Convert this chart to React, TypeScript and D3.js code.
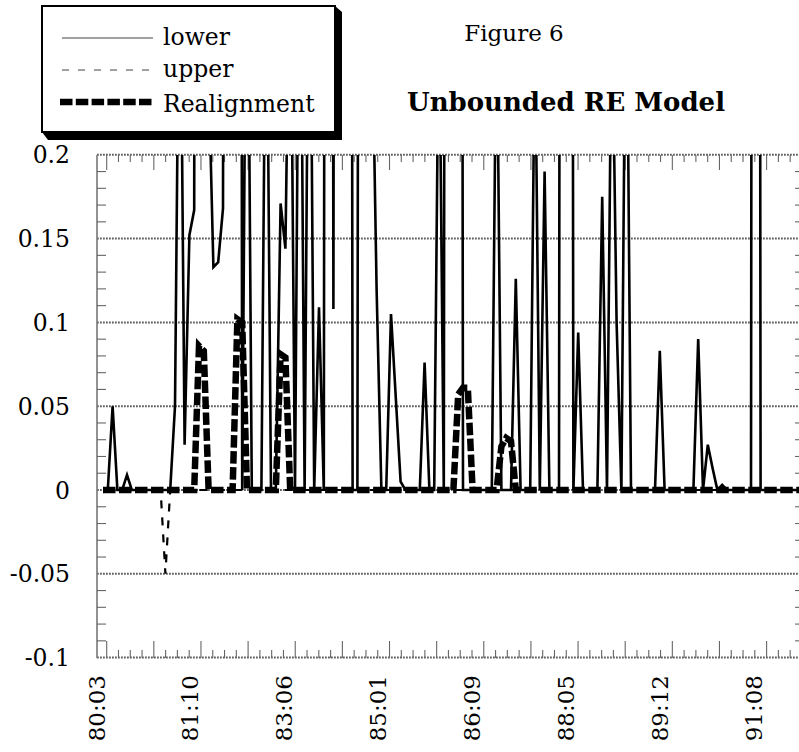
import React from 'react';
import * as d3 from 'd3';

// monthly observations 80:03 ... (index 0 = 80:03)
const lowerSeries: number[] = [
  0, 0, 0.05, 0, 0, 0.009, 0, 0, 0, 0,
  0, 0, 0, 0, 0, 0.05, 0.36, 0.027, 0.152, 0.167,
  2.4, 2.1, 0.25, 0.133, 0.136, 0.168, 2.2, 2.5, 2.3, 0,
  0.4, 0, 0, 0, 0.35, 0, 0, 0.171, 0.144, 0.35,
  0, 0.4, 0, 0.4, 0, 0.109, 0, 2.4, 0.108, 2.2,
  2.6, 2.3, 0, 0, 2.1, 2.4, 0.29, 0.12, 0, 0,
  0.105, 0.055, 0.005, 0, 0, 0, 0, 0.076, 0, 0,
  0.3, 0, 2.2, 2.5, 2.3, 0, 0, 0, 0, 0,
  0, 0, 0.3, 0, 0, 0, 0.126, 0, 0, 0,
  0.28, 0, 0.19, 0, 0, 0, 2.4, 2.2, 0, 0.094,
  0, 0, 0, 0, 0.175, 0, 0.3, 0.1, 0, 0.35,
  0, 0, 0, 0, 0, 0, 0.083, 0, 0, 0,
  0, 0, 0, 0, 0.09, 0, 0.027, 0.013, 0, 0.003,
  0, 0, 0, 0, 0, 0, 2.6, 0, 0, 0,
  0, 0, 0, 0, 0, 0, 0,
];

const upperSeries: number[] = [
  0, 0, 0, 0, 0, 0, 0, 0, 0, 0,
  0, 0, 0, -0.05, 0, 0, 0, 0, 0, 0,
  0, 0, 0, 0, 0, 0, 0, 0, 0, 0,
  0, 0, 0, 0, 0, 0, 0, 0, 0, 0,
  0, 0, 0, 0, 0, 0, 0, 0, 0, 0,
  0, 0, 0, 0, 0, 0, 0, 0, 0, 0,
  0, 0, 0, 0, 0, 0, 0, 0, 0, 0,
  0, 0, 0, 0, 0, 0, 0, 0, 0, 0,
  0, 0, 0, 0, 0, 0, 0, 0, 0, 0,
  0, 0, 0, 0, 0, 0, 0, 0, 0, 0,
  0, 0, 0, 0, 0, 0, 0, 0, 0, 0,
  0, 0, 0, 0, 0, 0, 0, 0, 0, 0,
  0, 0, 0, 0, 0, 0, 0, 0, 0, 0,
  0, 0, 0, 0, 0, 0, 0, 0, 0, 0,
  0, 0, 0, 0, 0, 0, 0,
];

const realignSeries: number[] = [
  0, 0, 0, 0, 0, 0, 0, 0, 0, 0,
  0, 0, 0, 0, 0, 0, 0, 0, 0, 0,
  0.086, 0.083, 0, 0, 0, 0, 0, 0, 0.102, 0.1,
  0, 0, 0, 0, 0, 0, 0, 0.081, 0.079, 0,
  0, 0, 0, 0, 0, 0, 0, 0, 0, 0,
  0, 0, 0, 0, 0, 0, 0, 0, 0, 0,
  0, 0, 0, 0, 0, 0, 0, 0, 0, 0,
  0, 0, 0, 0, 0.057, 0.061, 0.061, 0, 0, 0,
  0, 0, 0, 0.026, 0.031, 0.029, 0, 0, 0, 0,
  0, 0, 0, 0, 0, 0, 0, 0, 0, 0,
  0, 0, 0, 0, 0, 0, 0, 0, 0, 0,
  0, 0, 0, 0, 0, 0, 0, 0, 0, 0,
  0, 0, 0, 0, 0, 0, 0, 0, 0, 0,
  0, 0, 0, 0, 0, 0, 0, 0, 0, 0,
  0, 0, 0, 0, 0, 0, 0,
];

const xTickLabels: string[] = ['80:03', '81:10', '83:06', '85:01', '86:09', '88:05', '89:12', '91:08'];
const lastLabelIndex = 137;
const yTickValues: number[] = [-0.1, -0.05, 0, 0.05, 0.1, 0.15, 0.2];
const yTickLabels: string[] = ['-0.1', '-0.05', '0', '0.05', '0.1', '0.15', '0.2'];
const legendNames: string[] = ['lower', 'upper', 'Realignment'];

export default function App() {
  const W = 799;
  const H = 752;
  const plotL = 97, plotR = 805, plotT = 155, plotB = 658;
  const x = d3.scaleLinear().domain([0, 144]).range([103, 794.2]);
  const y = d3.scaleLinear().domain([-0.1, 0.2]).range([657.6, 154.8]);
  const line = d3.line<number>().x((_, i) => x(i)).y((d) => y(d));

  const idxL = x.invert(plotL);
  const idxR = x.invert(plotR);
  const tickStart = 0.77;
  const minorStep = 9.82 / 4;
  const xTicks: { v: number; major: boolean }[] = [];
  for (let j = 0; tickStart + j * minorStep <= idxR; j++) {
    const v = tickStart + j * minorStep;
    if (v >= idxL) xTicks.push({ v, major: j % 4 === 0 });
  }
  const yMinor: number[] = d3.range(-10, 21).map((k) => k / 100).filter((v) => Math.round(v * 100) % 5 !== 0);

  const gridStyle = { stroke: '#606060', strokeWidth: 2, strokeDasharray: '1.8 1.2' };
  const serif = '"DejaVu Serif", serif';

  return (
    <svg width={W} height={H} style={{ position: 'absolute', left: 0, top: 0, background: '#fff' }}>
      <defs>
        <clipPath id="plotclip">
          <rect x={plotL} y={plotT} width={plotR - plotL} height={plotB - plotT} />
        </clipPath>
      </defs>
      <rect x={0} y={0} width={W} height={H} fill="#fff" />

      {/* gridlines */}
      {yTickValues.map((v) => (
        <line key={'g' + v} x1={plotL} x2={plotR} y1={y(v)} y2={y(v)} {...gridStyle} />
      ))}
      {/* left axis */}
      <line x1={plotL} x2={plotL} y1={plotT} y2={plotB} stroke="#777" strokeWidth={1.6} />
      {yMinor.map((v) => (
        <g key={'ym' + v}>
          <line x1={plotL} x2={plotL + 9} y1={y(v)} y2={y(v)} stroke="#666" strokeWidth={1.1} />
          <line x1={plotR - 10} x2={plotR} y1={y(v)} y2={y(v)} stroke="#666" strokeWidth={1.1} />
        </g>
      ))}
      {/* x ticks bottom & top */}
      {xTicks.map((t, i) => (
        <g key={'xt' + i}>
          <line x1={x(t.v)} x2={x(t.v)} y1={plotB} y2={plotB - (t.major ? 17 : 8)} stroke="#666" strokeWidth={1.1} />
          <line x1={x(t.v)} x2={x(t.v)} y1={plotT} y2={plotT + (t.major ? 15 : 7)} stroke="#666" strokeWidth={1.1} />
        </g>
      ))}

      {/* data */}
      <g clipPath="url(#plotclip)">
        <path d={line(realignSeries) || ''} fill="none" stroke="#000" strokeWidth={6.5} strokeDasharray="12.5 3.5" />
        <path d={line(upperSeries) || ''} fill="none" stroke="#000" strokeWidth={2.2} strokeDasharray="8 9" />
        <path d={line(lowerSeries) || ''} fill="none" stroke="#000" strokeWidth={2.6} />
      </g>

      {/* y labels */}
      {yTickValues.map((v, i) => (
        <text key={'yl' + v} x={70} y={y(v) + 8.5} textAnchor="end" fontFamily={serif} fontSize={23.5} fill="#000">
          {yTickLabels[i]}
        </text>
      ))}
      {/* x labels */}
      {xTickLabels.map((s, k) => {
        const px = x((k * lastLabelIndex) / (xTickLabels.length - 1)) + 1.5;
        const py = 675;
        return (
          <text key={'xl' + s} x={px} y={py} transform={`rotate(-90 ${px} ${py})`} textAnchor="end" fontFamily={serif} fontSize={23} fill="#000">
            {s}
          </text>
        );
      })}

      {/* titles */}
      <text x={514} y={41} textAnchor="middle" fontFamily={serif} fontSize={23} fill="#000">Figure 6</text>
      <text x={566} y={111} textAnchor="middle" fontFamily={serif} fontWeight="bold" fontSize={26} fill="#000">Unbounded RE Model</text>

      {/* legend */}
      <polygon points="335,6 342,12 342,140 48,140 42,132 335,132" fill="#000" />
      <rect x={42} y={6} width={293} height={126} fill="#fff" stroke="#000" strokeWidth={2} />
      <line x1={62} x2={153} y1={38} y2={38} stroke="#444" strokeWidth={1} />
      <line x1={62} x2={153} y1={70} y2={70} stroke="#444" strokeWidth={1} strokeDasharray="7 9" />
      <line x1={60} x2={154} y1={102} y2={102} stroke="#000" strokeWidth={6.5} strokeDasharray="12.5 3.3" />
      {legendNames.map((n, i) => (
        <text key={n} x={163} y={[45, 77, 112][i]} fontFamily={serif} fontSize={23.5} fill="#000">{n}</text>
      ))}
    </svg>
  );
}
